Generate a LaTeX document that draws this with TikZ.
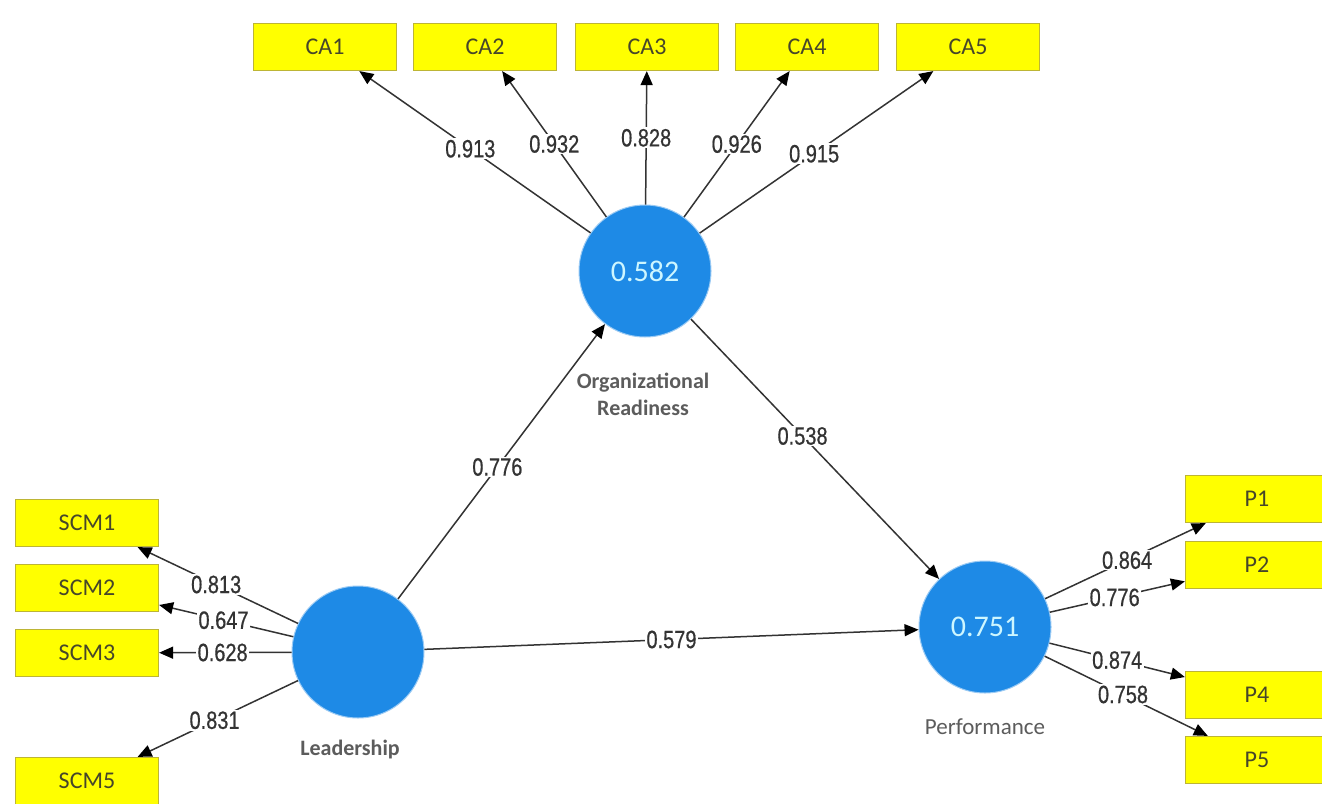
\documentclass[tikz,border=0pt]{standalone}
\usepackage{fontspec}
\usetikzlibrary{arrows.meta}
\newfontfamily\numfont[FakeStretch=0.8,FakeBold=0.6]{Liberation Sans}
\newfontfamily\boxfont{Carlito}
\definecolor{boxyellow}{HTML}{FFFF00}
\definecolor{boxedge}{HTML}{BDB535}
\definecolor{lvblue}{HTML}{1E8AE6}
\definecolor{lvtext}{HTML}{CDF6FF}
\definecolor{inkgrey}{HTML}{333333}
\definecolor{boxink}{HTML}{46462A}
\begin{document}
\begin{tikzpicture}[x=1pt,y=-1pt,
  indicator/.style={draw=boxedge, line width=1.2pt, fill=boxyellow,
    minimum width=143pt, minimum height=47pt, inner sep=0pt,
    font=\boxfont\fontsize{24}{27}\selectfont, text=boxink},
  latent/.style={circle, fill=lvblue, draw=lvblue!45, line width=1pt,
    minimum size=132pt, inner sep=0pt,
    font=\boxfont\fontsize{30}{34}\selectfont, text=lvtext},
  caption/.style={font=\boxfont\bfseries\fontsize{22}{27}\selectfont,
    text=inkgrey!80, align=center},
  link/.style={draw=inkgrey, line width=1.5pt,
    -{Triangle[length=14pt,width=12pt,color=black]}},
  coef/.style={fill=white, inner sep=1.5pt,
    font=\numfont\fontsize{25}{28}\selectfont, text=inkgrey},
]
\useasboundingbox[fill=white] (0,0) rectangle (1322,803);
\clip (0,0) rectangle (1322,803);

% latent variables
\node[latent] (or) at (645,271) {0.582};
\node[latent] (ld) at (358,652) {};
\node[latent] (pf) at (985,627) {0.751};

\node[caption] (orcap) at (643,394) {Organizational\\Readiness};
\node[caption] (ldcap) at (350,750) {Leadership};
\node[caption, font=\boxfont\fontsize{23}{27}\selectfont] (pfcap) at (985,727) {Performance};

% indicators
\node[indicator] (ca1) at (325,47) {CA1};
\node[indicator] (ca2) at (485,47) {CA2};
\node[indicator] (ca3) at (647,47) {CA3};
\node[indicator] (ca4) at (807,47) {CA4};
\node[indicator] (ca5) at (968,47) {CA5};

\node[indicator] (scm1) at (87,523) {SCM1};
\node[indicator] (scm2) at (87,588) {SCM2};
\node[indicator] (scm3) at (87,653) {SCM3};
\node[indicator] (scm5) at (87,781) {SCM5};

\node[indicator] (p1) at (1257,499) {P1};
\node[indicator] (p2) at (1257,565) {P2};
\node[indicator] (p4) at (1257,695) {P4};
\node[indicator] (p5) at (1257,760) {P5};

% outer loadings
\draw[link] (or) -- node[coef, pos=0.52] (c1) {0.913} (ca1);
\draw[link] (or) -- node[coef, pos=0.50] (c2) {0.932} (ca2);
\draw[link] (or) -- node[coef, pos=0.50] (c3) {0.828} (ca3);
\draw[link] (or) -- node[coef, pos=0.50] (c4) {0.926} (ca4);
\draw[link] (or) -- node[coef, pos=0.49] (c5) {0.915} (ca5);

\draw[link] (ld) -- node[coef, pos=0.51] (s1) {0.813} (scm1);
\draw[link] (ld) -- node[coef, pos=0.52] (s2) {0.647} (scm2);
\draw[link] (ld) -- node[coef, pos=0.52] (s3) {0.628} (scm3);
\draw[link] (ld) -- node[coef, pos=0.52] (s5) {0.831} (scm5);

\draw[link] (pf) -- node[coef, pos=0.51] (q1) {0.864} (p1);
\draw[link] (pf) -- node[coef, pos=0.48] (q2) {0.776} (p2);
\draw[link] (pf) -- node[coef, pos=0.50] (q4) {0.874} (p4);
\draw[link] (pf) -- node[coef, pos=0.48] (q5) {0.758} (p5);

% path coefficients
\draw[link] (ld) -- node[coef, pos=0.48] (b1) {0.776} (or);
\draw[link] (or) -- node[coef, pos=0.45] (b2) {0.538} (pf);
\draw[link] (ld) -- node[coef, pos=0.50] (b3) {0.579} (pf);
\end{tikzpicture}
\end{document}
